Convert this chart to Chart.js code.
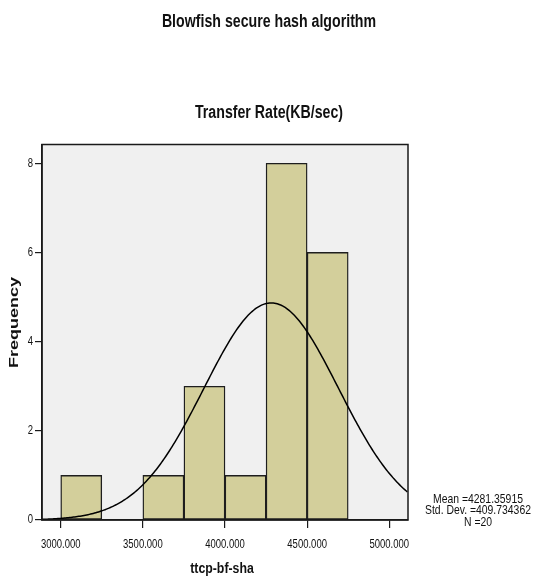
<!DOCTYPE html>
<html>
<head>
<meta charset="utf-8">
<script src="https://cdn.jsdelivr.net/npm/chart.js@4.4.1/dist/chart.umd.min.js"></script>
<style>
  html, body { margin: 0; padding: 0; background: #ffffff; }
  #wrap { width: 533px; height: 585px; }
</style>
</head>
<body>
<div id="wrap"><canvas id="chart" width="533" height="585"></canvas></div>
<script>
// Histogram bins of ttcp-bf-sha transfer rate (bin width 250)
const binCenters = [3125, 3375, 3625, 3875, 4125, 4375, 4625];
const binCounts  = [1, 0, 1, 3, 1, 8, 6];
const binWidth = 250;

// Axis ticks and ranges
const xTickValues = [3000, 3500, 4000, 4500, 5000];
const yTickValues = [0, 2, 4, 6, 8];
const xRange = [2886, 5114];
const yRange = [0, 8.42];

// Descriptive statistics shown beside the plot
const meanValue = 4281.35915;
const sdValue = 409.734362;
const nValue = 20;
const statLines = ['Mean =4281.35915', 'Std. Dev. =409.734362', 'N =20'];

const chartTitle = 'Blowfish secure hash algorithm';
const chartSubtitle = 'Transfer Rate(KB/sec)';
const xTitle = 'ttcp-bf-sha';
const yTitle = 'Frequency';

const SANS = "'Liberation Sans', Arial, sans-serif";

// Fitted normal curve, scaled to the histogram counts
const curvePoints = [];
for (let x = xRange[0]; x <= xRange[1]; x += 8) {
  const z = (x - meanValue) / sdValue;
  const y = nValue * binWidth / (sdValue * Math.sqrt(2 * Math.PI)) * Math.exp(-0.5 * z * z);
  curvePoints.push({ x: x, y: y });
}

// condensed text: horizontally squeezed glyphs
function drawCondensed(ctx, text, x, y, font, sx, align) {
  ctx.save();
  ctx.font = font;
  ctx.fillStyle = '#111';
  ctx.textAlign = align || 'center';
  ctx.textBaseline = 'middle';
  ctx.translate(x, y);
  ctx.scale(sx, 1);
  ctx.fillText(text, 0, 0);
  ctx.restore();
}

const plotDecor = {
  id: 'plotDecor',
  beforeDraw(chart) {
    const { ctx, chartArea: a } = chart;
    ctx.save();
    ctx.fillStyle = '#f0f0f0';
    ctx.fillRect(a.left, a.top, a.right - a.left, a.bottom - a.top);
    ctx.restore();
  },
  afterDraw(chart) {
    const { ctx, chartArea: a, scales } = chart;
    ctx.save();
    ctx.strokeStyle = '#1a1a1a';
    ctx.lineWidth = 1.5;
    ctx.strokeRect(a.left, a.top, a.right - a.left, a.bottom - a.top);
    ctx.restore();

    // titles
    drawCondensed(ctx, chartTitle, 269, 22.5, 'bold 17.5px ' + SANS, 0.81);
    drawCondensed(ctx, chartSubtitle, 269, 113, 'bold 17.5px ' + SANS, 0.81);

    // tick labels
    xTickValues.forEach(v => {
      drawCondensed(ctx, v.toFixed(3), scales.x.getPixelForValue(v), 544.5, '12.5px ' + SANS, 0.76);
    });
    yTickValues.forEach(v => {
      drawCondensed(ctx, String(v), 33, scales.y.getPixelForValue(v), '12.5px ' + SANS, 0.76, 'right');
    });

    // axis titles
    drawCondensed(ctx, xTitle, 222, 568.5, 'bold 15px ' + SANS, 0.82);
    ctx.save();
    ctx.translate(15, 322.5);
    ctx.rotate(-Math.PI / 2);
    ctx.scale(1, 0.7);
    ctx.fillStyle = '#111';
    ctx.font = 'bold 18px ' + SANS;
    ctx.textAlign = 'center';
    ctx.textBaseline = 'middle';
    ctx.fillText(yTitle, 0, 0);
    ctx.restore();

    // statistics block
    statLines.forEach((t, i) => drawCondensed(ctx, t, 478, 499 + i * 11.5, '13px ' + SANS, 0.8));
  }
};

new Chart(document.getElementById('chart'), {
  type: 'bar',
  data: {
    datasets: [
      {
        type: 'line',
        data: curvePoints,
        borderColor: '#000000',
        borderWidth: 1.5,
        pointRadius: 0,
        tension: 0,
        fill: false,
        order: 1
      },
      {
        type: 'bar',
        data: binCenters.map((x, i) => ({ x: x, y: binCounts[i] })),
        backgroundColor: '#d3cf9b',
        borderColor: '#1e1e1e',
        borderWidth: 1.4,
        borderSkipped: false,
        barPercentage: 1,
        categoryPercentage: 1,
        order: 2
      }
    ]
  },
  options: {
    responsive: false,
    animation: false,
    layout: { padding: { top: 144.5, left: 0, right: 0, bottom: 0 } },
    plugins: {
      legend: { display: false },
      tooltip: { enabled: false },
      title: { display: false }
    },
    scales: {
      x: {
        type: 'linear',
        min: xRange[0],
        max: xRange[1],
        offset: false,
        afterBuildTicks: s => { s.ticks = xTickValues.map(v => ({ value: v })); },
        afterFit: s => { s.height = 65; },
        ticks: { display: false },
        grid: { drawOnChartArea: false, drawTicks: true, tickLength: 8, color: '#1a1a1a', lineWidth: 1.2, offset: false },
        border: { display: true, color: '#1a1a1a', width: 1.5 }
      },
      y: {
        min: yRange[0],
        max: yRange[1],
        afterBuildTicks: s => { s.ticks = yTickValues.map(v => ({ value: v })); },
        afterFit: s => { s.width = 42; },
        ticks: { display: false },
        grid: { drawOnChartArea: false, drawTicks: true, tickLength: 7, color: '#1a1a1a', lineWidth: 1.2 },
        border: { display: true, color: '#1a1a1a', width: 1.5 }
      },
      side: {
        position: 'right',
        display: true,
        afterFit: s => { s.width = 125; },
        ticks: { display: false },
        grid: { display: false },
        border: { display: false }
      }
    }
  },
  plugins: [plotDecor]
});
</script>
</body>
</html>
